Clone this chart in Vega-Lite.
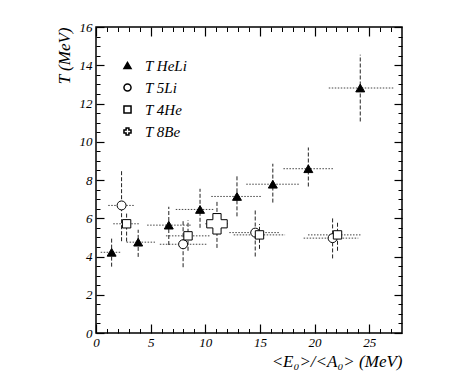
{
  "$schema": "https://vega.github.io/schema/vega-lite/v6.json",
  "width": 306,
  "height": 306,
  "autosize": {"type": "none"},
  "padding": {"left": 96, "top": 27, "right": 58, "bottom": 44},
  "background": "white",
  "config": {
    "font": "Liberation Serif",
    "view": {"stroke": "black", "strokeWidth": 1.5},
    "axis": {"grid": false, "domain": false, "labelFontStyle": "italic", "titleFontStyle": "italic", "labelColor": "black", "titleColor": "black", "tickColor": "black", "titleFontWeight": "normal", "labelFont": "Liberation Serif", "titleFont": "Liberation Serif"},
    "legend": {"labelFont": "Liberation Serif", "labelFontStyle": "italic"}
  },
  "data": {"values": [
    {"s": "HeLi", "x": 1.43, "y": 4.22, "xlo": 0.43, "xhi": 2.34, "ylo": 3.47, "yhi": 5.04},
    {"s": "HeLi", "x": 3.86, "y": 4.75, "xlo": 2.8, "xhi": 5.4, "ylo": 3.98, "yhi": 5.4},
    {"s": "HeLi", "x": 6.66, "y": 5.64, "xlo": 4.68, "xhi": 8.73, "ylo": 4.6, "yhi": 6.6},
    {"s": "HeLi", "x": 9.52, "y": 6.46, "xlo": 7.3, "xhi": 10.86, "ylo": 5.5, "yhi": 7.54},
    {"s": "HeLi", "x": 12.9, "y": 7.14, "xlo": 10.55, "xhi": 15.2, "ylo": 6.1, "yhi": 8.2},
    {"s": "HeLi", "x": 16.18, "y": 7.78, "xlo": 13.75, "xhi": 18.6, "ylo": 6.82, "yhi": 8.85},
    {"s": "HeLi", "x": 19.43, "y": 8.59, "xlo": 17.15, "xhi": 21.8, "ylo": 7.66, "yhi": 9.7},
    {"s": "HeLi", "x": 24.18, "y": 12.81, "xlo": 21.3, "xhi": 27.3, "ylo": 11.06, "yhi": 14.55},
    {"s": "5Li", "x": 2.34, "y": 6.67, "xlo": 1.12, "xhi": 3.56, "ylo": 4.8, "yhi": 8.5},
    {"s": "5Li", "x": 7.97, "y": 4.64, "xlo": 5.84, "xhi": 10.1, "ylo": 3.44, "yhi": 5.88},
    {"s": "5Li", "x": 14.57, "y": 5.25, "xlo": 12.2, "xhi": 16.85, "ylo": 4.0, "yhi": 6.5},
    {"s": "5Li", "x": 21.65, "y": 4.96, "xlo": 19.0, "xhi": 24.0, "ylo": 3.9, "yhi": 6.0},
    {"s": "4He", "x": 2.8, "y": 5.71, "xlo": 1.58, "xhi": 3.92, "ylo": 4.78, "yhi": 6.3},
    {"s": "4He", "x": 8.42, "y": 5.08, "xlo": 6.4, "xhi": 10.5, "ylo": 4.3, "yhi": 5.9},
    {"s": "4He", "x": 14.96, "y": 5.13, "xlo": 12.6, "xhi": 17.3, "ylo": 4.4, "yhi": 5.7},
    {"s": "4He", "x": 22.1, "y": 5.13, "xlo": 19.4, "xhi": 24.2, "ylo": 4.3, "yhi": 5.8},
    {"s": "8Be", "x": 11.07, "y": 5.71, "xlo": 10.0, "xhi": 12.1, "ylo": 4.45, "yhi": 6.96}
  ]},
  "resolve": {"axis": {"x": "independent", "y": "independent"}},
  "layer": [
    {
      "mark": {"type": "rule", "stroke": "#444", "strokeWidth": 1, "strokeDash": [1.5, 1.5]},
      "encoding": {
        "x": {"field": "xlo", "type": "quantitative", "scale": {"domain": [0, 28], "nice": false, "zero": false},
              "axis": {"orient": "bottom", "values": [0, 5, 10, 15, 20, 25], "tickSize": -9, "tickWidth": 1.2, "labelPadding": 12, "labelFontSize": 13, "labelFlush": false, "title": "<E₀>/<A₀> (MeV)", "titleFontSize": 17, "titleAnchor": "end", "titlePadding": 4}},
        "x2": {"field": "xhi"},
        "y": {"field": "y", "type": "quantitative", "scale": {"domain": [0, 16], "nice": false, "zero": false},
              "axis": {"orient": "left", "values": [0, 2, 4, 6, 8, 10, 12, 14, 16], "tickSize": -8, "tickWidth": 1.2, "labelPadding": 12, "labelFontSize": 13, "labelFlush": false, "title": "T (MeV)", "titleFontSize": 17, "titleAnchor": "end", "titlePadding": 6}}
      }
    },
    {
      "mark": {"type": "rule", "stroke": "#222", "strokeWidth": 1, "strokeDash": [4, 2]},
      "encoding": {
        "x": {"field": "x", "type": "quantitative", "axis": {"orient": "top", "values": [0, 5, 10, 15, 20, 25], "tickSize": -9, "tickWidth": 1.2, "labels": false, "title": null}},
        "y": {"field": "ylo", "type": "quantitative", "axis": {"orient": "right", "values": [0, 2, 4, 6, 8, 10, 12, 14, 16], "tickSize": -8, "tickWidth": 1.2, "labels": false, "title": null}},
        "y2": {"field": "yhi"}
      }
    },
    {
      "mark": {"type": "point", "opacity": 0},
      "encoding": {
        "x": {"field": "x", "type": "quantitative", "axis": {"orient": "top", "values": [1,2,3,4,6,7,8,9,11,12,13,14,16,17,18,19,21,22,23,24,26,27], "tickSize": -4.5, "labels": false, "title": null}},
        "y": {"field": "y", "type": "quantitative", "axis": {"orient": "right", "values": [0.5,1,1.5,2.5,3,3.5,4.5,5,5.5,6.5,7,7.5,8.5,9,9.5,10.5,11,11.5,12.5,13,13.5,14.5,15,15.5], "tickSize": -4, "labels": false, "title": null}}
      }
    },
    {
      "mark": {"type": "point", "filled": true, "stroke": "black", "strokeWidth": 1, "opacity": 1},
      "encoding": {
        "x": {"field": "x", "type": "quantitative", "axis": {"orient": "bottom", "values": [1,2,3,4,6,7,8,9,11,12,13,14,16,17,18,19,21,22,23,24,26,27], "tickSize": -4.5, "labels": false, "title": null}},
        "y": {"field": "y", "type": "quantitative", "axis": {"orient": "left", "values": [0.5,1,1.5,2.5,3,3.5,4.5,5,5.5,6.5,7,7.5,8.5,9,9.5,10.5,11,11.5,12.5,13,13.5,14.5,15,15.5], "tickSize": -4, "labels": false, "title": null}},
        "shape": {"field": "s", "type": "nominal", "scale": {"domain": ["HeLi", "5Li", "4He", "8Be"], "range": ["triangle-up", "circle", "square", "cross"]},
                  "legend": {"title": null, "orient": "none", "legendX": 24, "legendY": 31, "padding": 0, "symbolSize": 50, "labelFontSize": 15, "labelOffset": 10, "rowPadding": 6, "labelExpr": "'T ' + datum.label",
                             "encode": {"symbols": {"update": {"stroke": {"value": "black"}, "strokeWidth": {"value": 1}}}}}},
        "fill": {"field": "s", "type": "nominal", "scale": {"domain": ["HeLi", "5Li", "4He", "8Be"], "range": ["black", "white", "white", "white"]},
                 "legend": {"title": null, "orient": "none", "legendX": 24, "legendY": 31, "padding": 0, "symbolSize": 50, "labelFontSize": 15, "labelOffset": 10, "rowPadding": 6, "labelExpr": "'T ' + datum.label",
                            "encode": {"symbols": {"update": {"stroke": {"value": "black"}, "strokeWidth": {"value": 1}}}}}},
        "size": {"condition": [{"test": "datum.s === '8Be'", "value": 420}, {"test": "datum.s === '4He'", "value": 70}], "value": 80}
      }
    }
  ]
}
